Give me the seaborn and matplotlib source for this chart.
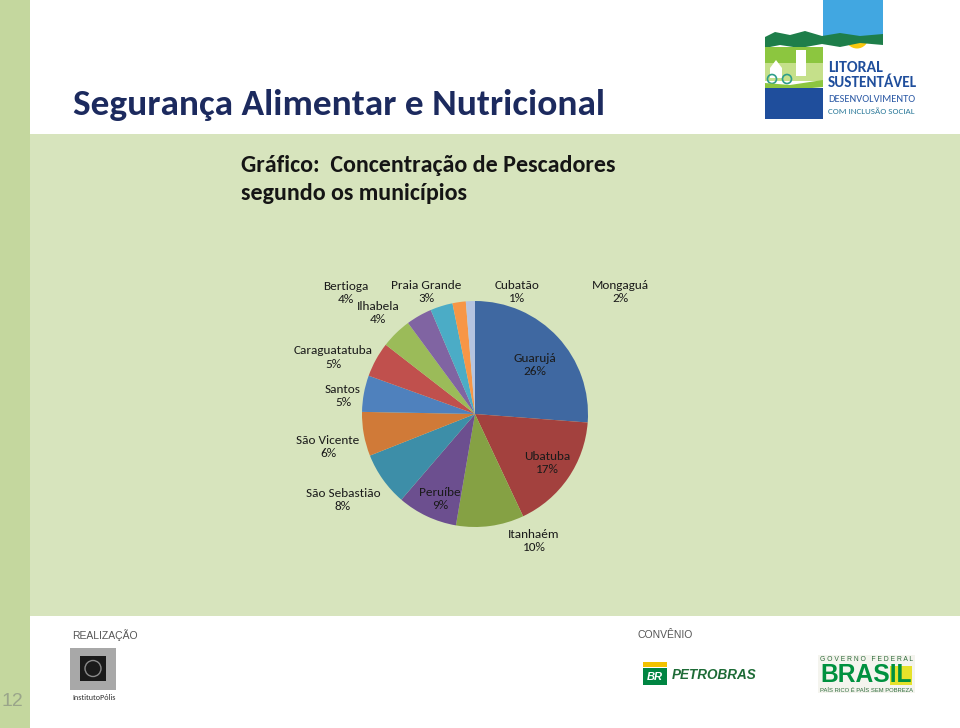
import matplotlib
matplotlib.use("Agg")
import matplotlib.pyplot as plt
from matplotlib import font_manager
from matplotlib.patches import Rectangle, Wedge, Polygon, Circle
import seaborn as sns

# ---------------- data ----------------
municipios = ["Guarujá", "Ubatuba", "Itanhaém", "Peruíbe", "São Sebastião",
              "São Vicente", "Santos", "Caraguatatuba", "Ilhabela", "Bertioga",
              "Praia Grande", "Mongaguá", "Cubatão"]
valores = [26.2, 16.8, 9.7, 8.6, 7.7, 6.3, 5.2, 5.0, 4.4, 3.7, 3.2, 1.9, 1.3]

titulo = "Segurança Alimentar e Nutricional"
subtitulo = ["Gráfico:  Concentração de Pescadores", "segundo os municípios"]

# ---------------- style ----------------
sns.set_theme(style="white")
avail = {f.name for f in font_manager.fontManager.ttflist}
FONT = "Carlito" if "Carlito" in avail else "Lato"
plt.rcParams["font.family"] = [FONT, "DejaVu Sans"]

cores = ["#3f68a1", "#a3413e", "#85a144", "#6c4f8f", "#3d8ea8", "#d07a38",
         "#4f81bd", "#c0504d", "#9bbb59", "#8064a2", "#4bacc6", "#f79646",
         "#b5c4e0"]

W, H = 960, 728
fig = plt.figure(figsize=(W / 100, H / 100), dpi=100)
fig.patch.set_facecolor("white")
renderer = fig.canvas.get_renderer()

# background axes in pixel coordinates
bg = fig.add_axes([0, 0, 1, 1])
bg.set_xlim(0, W)
bg.set_ylim(H, 0)
bg.axis("off")
bg.add_patch(Rectangle((0, 0), 30, H, color="#c4d79e", lw=0))
bg.add_patch(Rectangle((30, 134), W - 30, 482, color="#d7e4bd", lw=0))


def fit(ax, x, y, s, target_w, size0=10, **kw):
    t = ax.text(x, y, s, fontsize=size0, **kw)
    w = t.get_window_extent(renderer).width
    t.set_fontsize(size0 * target_w / w)
    return t


# titles
fit(bg, 73, 115, titulo, 533, 24, fontweight="bold", color="#1c2a5e",
    ha="left", va="baseline")
t1 = fit(bg, 241, 171.5, subtitulo[0], 374, 18, fontweight="bold", color="#151515",
         ha="left", va="baseline")
bg.text(241, 199.5, subtitulo[1], fontsize=t1.get_fontsize(), fontweight="bold",
        color="#151515", ha="left", va="baseline")

# footer
bg.text(72, 635, "REALIZAÇÃO", fontsize=7.5, color="#555555", family="Liberation Sans",
        ha="left", va="center")
bg.text(638, 635, "CONVÊNIO", fontsize=7.5, color="#555555", family="Liberation Sans",
        ha="left", va="center")
bg.text(12, 701, "12", fontsize=14, color="#9aa58a", family="Liberation Sans",
        ha="center", va="center")

# --- Litoral Sustentável logo (approximation) ---
bg.add_patch(Rectangle((823, 0), 60, 37, color="#41a7e1", lw=0))
bg.add_patch(Wedge((857, 37), 11.5, 0, 180, color="#f9c80e", lw=0))
bg.add_patch(Polygon([(765, 37), (775, 32), (790, 35), (805, 31), (822, 36), (840, 33),
                      (860, 36), (883, 34), (883, 45), (860, 43), (840, 47), (822, 44),
                      (800, 48), (780, 45), (765, 48)], closed=True, color="#1e7e4a", lw=0))
bg.add_patch(Rectangle((765, 47), 58, 16, color="#8cc63f", lw=0))
bg.add_patch(Rectangle((765, 63), 58, 18, color="#c5e08a", lw=0))
bg.add_patch(Polygon([(770, 68), (776, 60), (782, 68), (782, 78), (770, 78)], closed=True,
                     color="white", lw=0))
bg.add_patch(Rectangle((796, 50), 10, 26, color="white", lw=0))
bg.add_patch(Circle((772, 79), 4.5, fill=False, ec="#2e9e8a", lw=1.2))
bg.add_patch(Circle((787, 79), 4.5, fill=False, ec="#2e9e8a", lw=1.2))
bg.add_patch(Polygon([(765, 83), (790, 85), (823, 80), (823, 87), (790, 90), (765, 88)],
                     closed=True, color="#8cc63f", lw=0))
bg.add_patch(Rectangle((765, 88), 58, 31, color="#1f4e9c", lw=0))
fit(bg, 828, 68, "LITORAL", 55, 9, fontweight="bold", color="#1f4e9c", ha="left", va="center")
fit(bg, 828, 83, "SUSTENTÁVEL", 89, 9, fontweight="bold", color="#1f4e9c", ha="left", va="center")
fit(bg, 828, 99, "DESENVOLVIMENTO", 87, 7, color="#2b59a5", ha="left", va="center")
fit(bg, 828, 112, "COM INCLUSÃO SOCIAL", 86, 6, color="#2c7a9a", ha="left", va="center")

# --- Instituto Pólis logo ---
bg.add_patch(Rectangle((70, 648), 46, 42, color="#a8a8a8", lw=0))
bg.add_patch(Rectangle((80, 656), 26, 25, color="#1a1a1a", lw=0))
bg.add_patch(Circle((93, 668.5), 8, fill=False, ec="#8a8a8a", lw=1))
fit(bg, 72, 698, "InstitutoPólis", 44, 5, color="#333333", ha="left", va="center")

# --- Petrobras logo ---
bg.add_patch(Rectangle((643, 662), 24, 5, color="#f2c200", lw=0))
bg.add_patch(Rectangle((643, 668), 24, 17, color="#008542", lw=0))
bg.text(655, 676.5, "BR", color="white", fontsize=8, fontweight="bold", style="italic",
        ha="center", va="center", family="Liberation Sans")
fit(bg, 672, 675, "PETROBRAS", 85, 9, color="#1d6b36", fontweight="bold", style="italic",
    ha="left", va="center", family="Liberation Sans")

# --- Governo Federal Brasil logo ---
bg.add_patch(Rectangle((818, 655), 97, 38, color="#f4f4ee", lw=0))
bg.add_patch(Rectangle((890, 666), 22, 19, color="#e6e22a", lw=0))
fit(bg, 820, 659.5, "G O V E R N O   F E D E R A L", 92, 4, color="#2d6b3a",
    ha="left", va="center", family="Liberation Sans")
fit(bg, 820, 675.5, "BRASIL", 92, 14, color="#00913f", fontweight="bold",
    ha="left", va="center", family="Liberation Sans")
fit(bg, 820, 690, "PAÍS RICO É PAÍS SEM POBREZA", 92, 4, color="#2d6b3a",
    ha="left", va="center", family="Liberation Sans")

# ---------------- pie ----------------
CX, CY, R = 475, 414, 113
side = 4 * R
ax = fig.add_axes([(CX - side / 2) / W, (H - (CY + side / 2)) / H, side / W, side / H])
ax.patch.set_alpha(0)
ax.pie(valores, colors=cores, startangle=90, counterclock=False, radius=1,
       wedgeprops=dict(linewidth=0))
ax.set_xlim(-2, 2)
ax.set_ylim(-2, 2)
ax.axis("off")

# label block centres in pixels (layout only)
label_pos = {
    "Guarujá": (535, 365), "Ubatuba": (547, 463), "Itanhaém": (534, 541),
    "Peruíbe": (440, 499), "São Sebastião": (343, 500), "São Vicente": (328, 447),
    "Santos": (343, 396), "Caraguatatuba": (333, 357.5), "Ilhabela": (378, 313),
    "Bertioga": (346, 293), "Praia Grande": (426, 292), "Mongaguá": (620, 292),
    "Cubatão": (517, 292),
}
total = sum(valores)
for nome, v in zip(municipios, valores):
    px, py = label_pos[nome]
    ax.text((px - CX) / R, (CY - py) / R, f"{nome}\n{int(round(v / total * 100))}%",
            ha="center", va="center", multialignment="center", fontsize=9.5,
            color="#1a1a1a", linespacing=1.25)

fig.savefig("out.png", dpi=100, facecolor=fig.get_facecolor())
